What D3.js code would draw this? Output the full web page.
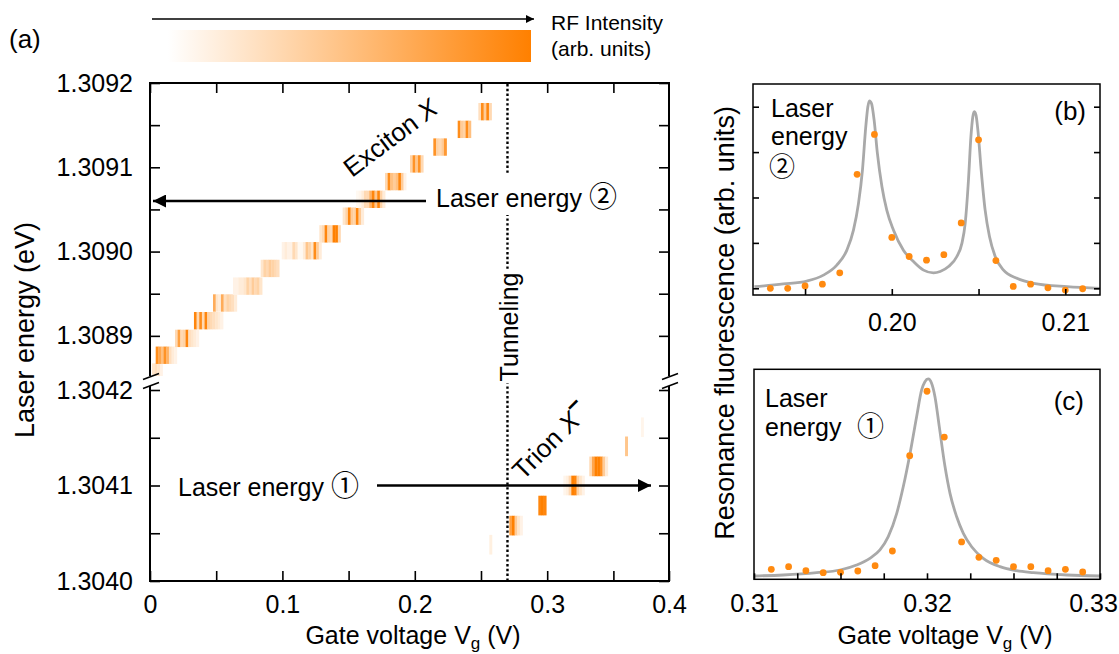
<!DOCTYPE html>
<html>
<head>
<meta charset="utf-8">
<script src="https://cdn.jsdelivr.net/npm/d3@7"></script>
<style>
  body { margin: 0; background: #fff; }
  text { font-family: "Liberation Sans", Arial, sans-serif; fill: #000; }
  .cj { font-family: "Noto Sans CJK JP", "DejaVu Sans", sans-serif; }
</style>
</head>
<body>
<svg id="fig" width="1119" height="654"></svg>
<script>
// ---- panel (a): RF map, one row per laser energy, stripes of intensity along gate voltage
var stripeDV = 0.002;      // V per stripe
var rowDE = 0.0000206;     // eV per row

var excitonE = [1.308857, 1.308877, 1.308897, 1.308918, 1.308939, 1.308959, 1.308980, 1.309001,
                1.309021, 1.309042, 1.309062, 1.309083, 1.309104, 1.309124, 1.309145, 1.309166];
var excitonV0 = [0.0015, 0.0043, 0.0189, 0.0332, 0.0476, 0.0627, 0.0836, 0.0995,
                 0.1279, 0.1455, 0.1556, 0.1775, 0.1964, 0.2140, 0.2324, 0.2480];
var excitonI = [
  [0.2, 0.25, 0.2, 0.1],
  [0.9, 0.7, 0.5, 0.85, 0.6, 0.25, 0.15, 0.1],
  [0.3, 0.75, 0.3, 0.35, 0.95, 0.25, 0.2, 0.15, 0.1],
  [0.95, 0.3, 0.9, 0.3, 0.95, 0.35, 0.3, 0.25, 0.2, 0.15, 0.1],
  [0.65, 0.2, 0.15, 0.65, 0.25, 0.35, 0.3, 0.25, 0.15],
  [0.1, 0.1, 0.15, 0.15, 0.2, 0.35, 0.25, 0.4, 0.3, 0.35, 0.2],
  [0.2, 0.35, 0.3, 0.4, 0.35, 0.3, 0.25],
  [0.1, 0.15, 0.1, 0.1, 0.3, 0.2, 0.05, 0.05, 0.15, 0.45, 0.35, 0.2, 0.9, 0.4, 0.15],
  [0.2, 0.3, 0.95, 0.35, 0.3, 1.0, 1.0, 0.3],
  [0.2, 0.35, 0.95, 0.4, 0.35, 0.95, 0.4, 0.15],
  [0.05, 0.08, 0.15, 0.3, 0.3, 0.6, 0.95, 0.45, 0.95, 0.35, 0.15],
  [0.3, 0.9, 0.5, 0.4, 0.5, 0.95, 0.4, 0.1],
  [0.35, 0.85, 0.45, 0.85, 0.3],
  [0.85, 0.35, 0.3, 0.4, 0.8],
  [0.9, 0.4, 0.35, 0.9, 0.5],
  [0.25, 0.9, 0.4, 0.95, 0.3]
];

var trionE = [1.304038, 1.304058, 1.304079, 1.304100, 1.304120, 1.304141, 1.304161];
var trionV0 = [0.2563, 0.2714, 0.2933, 0.3122, 0.3318, 0.3588, 0.3708];
var trionI = [
  [0.12],
  [0.75, 1.0, 0.4, 0.2, 0.1],
  [0.95, 1.0, 0.95],
  [0.08, 0.12, 0.3, 1.0, 0.95, 0.35, 0.2, 0.1],
  [0.3, 0.7, 1.0, 1.0, 0.85, 0.4, 0.15],
  [0.45],
  [0.08]
];

var laserE1 = 1.3041, laserE2 = 1.30906, tunnelV = 0.27;

var xTicksA = [0, 0.05, 0.1, 0.15, 0.2, 0.25, 0.3, 0.35, 0.392];
var xLabelsA = {0: "0", 0.1: "0.1", 0.2: "0.2", 0.3: "0.3", 0.392: "0.4"};
var yTicksUp = [1.3089, 1.30895, 1.3090, 1.30905, 1.3091, 1.30915, 1.3092];
var yLabelsUp = [1.3089, 1.3090, 1.3091, 1.3092];
var yTicksLo = [1.3040, 1.30405, 1.3041, 1.30415, 1.3042];
var yLabelsLo = [1.3040, 1.3041, 1.3042];

// ---- panel (b): laser energy 2
var bVolt = [0.193, 0.194, 0.195, 0.196, 0.197, 0.198, 0.199, 0.200, 0.201, 0.202,
             0.203, 0.204, 0.205, 0.206, 0.207, 0.208, 0.209, 0.210, 0.211];
var bRF = [0.0, 0.0, 0.05, 0.09, 0.34, 2.51, 3.39, 1.12, 0.70, 0.62,
           0.74, 1.44, 3.27, 0.61, 0.04, 0.09, 0.01, -0.04, -0.01];
var bFitV = [0.19208, 0.19375, 0.1951, 0.19606, 0.19683, 0.19741, 0.19779, 0.19808, 0.19831, 0.1985,
             0.19862, 0.19871, 0.19883, 0.19898, 0.19917, 0.19943, 0.19971, 0.2001, 0.20067, 0.20125,
             0.20183, 0.2024, 0.20279, 0.20327, 0.20375, 0.20404, 0.20423, 0.20442, 0.20456, 0.20467,
             0.20475, 0.20485, 0.20496, 0.20515, 0.20538, 0.20563, 0.20596, 0.20644, 0.20721, 0.20817,
             0.2101, 0.212];
var bFitY = [0.035, 0.095, 0.16, 0.29, 0.51, 0.84, 1.28, 1.87, 2.61, 3.56,
             4.0, 4.13, 4.07, 3.71, 2.97, 2.24, 1.72, 1.28, 0.84, 0.59,
             0.40, 0.34, 0.37, 0.48, 0.70, 0.99, 1.43, 2.39, 3.34, 3.78,
             3.89, 3.82, 3.49, 2.61, 1.72, 1.14, 0.70, 0.40, 0.22, 0.11,
             0.035, 0.0];
var bXTicks = [0.195, 0.200, 0.205, 0.210];
var bXLabels = [0.20, 0.21];
var bYTicks = [0, 1, 2, 3, 4];

// ---- panel (c): laser energy 1
var cVolt = [0.311, 0.312, 0.313, 0.314, 0.315, 0.316, 0.317, 0.318, 0.319, 0.320,
             0.321, 0.322, 0.323, 0.324, 0.325, 0.326, 0.327, 0.328, 0.329];
var cRF = [0.147, 0.205, 0.117, 0.073, 0.081, 0.11, 0.227, 0.55, 2.65, 4.07,
           3.06, 0.75, 0.41, 0.345, 0.205, 0.205, 0.117, 0.147, 0.088];
var cFitV = [0.31002, 0.31169, 0.31362, 0.31497, 0.31593, 0.3167, 0.31728, 0.31776, 0.31825, 0.31863,
             0.31902, 0.3194, 0.31969, 0.31988, 0.32007, 0.32027, 0.32046, 0.32071, 0.32104, 0.32133,
             0.32171, 0.3221, 0.32258, 0.32325, 0.32422, 0.32518, 0.32614, 0.32808, 0.33];
var cFitY = [0, 0.022, 0.073, 0.132, 0.242, 0.39, 0.573, 0.866, 1.38, 1.97,
             2.70, 3.51, 4.10, 4.28, 4.34, 4.24, 3.95, 3.29, 2.41, 1.82,
             1.31, 0.94, 0.645, 0.39, 0.205, 0.117, 0.073, 0.022, 0];
var cXTicks = [0.31, 0.3125, 0.315, 0.3175, 0.32, 0.3225, 0.325, 0.3275, 0.33];
var cXLabels = [0.31, 0.32, 0.33];

// ---------------------------------------------------------------
var svg = d3.select("#fig");
var color = d3.interpolateRgb("#ffffff", "#ff8000");
var near = function (arr, d) { return arr.some(function (t) { return Math.abs(t - d) < 1e-9; }); };

var defs = svg.append("defs");
defs.append("marker").attr("id", "head")
    .attr("viewBox", "0 0 10 10").attr("refX", 10).attr("refY", 5)
    .attr("markerUnits", "userSpaceOnUse").attr("markerWidth", 15).attr("markerHeight", 13)
    .attr("orient", "auto")
  .append("path").attr("d", "M0,0L10,5L0,10z").attr("fill", "#000");
defs.append("marker").attr("id", "headS")
    .attr("viewBox", "0 0 10 10").attr("refX", 10).attr("refY", 5)
    .attr("markerUnits", "userSpaceOnUse").attr("markerWidth", 9).attr("markerHeight", 8)
    .attr("orient", "auto")
  .append("path").attr("d", "M0,0L10,5L0,10z").attr("fill", "#000");
var grad = defs.append("linearGradient").attr("id", "cbar");
grad.append("stop").attr("offset", "0%").attr("stop-color", color(0));
grad.append("stop").attr("offset", "50%").attr("stop-color", color(0.5));
grad.append("stop").attr("offset", "100%").attr("stop-color", color(1));

// ---- (a) scales
var xA = d3.scaleLinear().domain([0, 0.392]).range([150, 669]);
var yUp = d3.scaleLinear().domain([1.30885, 1.3092]).range([378, 83]);
var yLo = d3.scaleLinear().domain([1.3040, 1.3042]).range([581, 390]);

defs.append("clipPath").attr("id", "clipUp").append("rect")
    .attr("x", 150).attr("y", 83).attr("width", 519).attr("height", 293);
defs.append("clipPath").attr("id", "clipLo").append("rect")
    .attr("x", 150).attr("y", 387).attr("width", 519).attr("height", 194);

function drawRows(g, E, V0, I, y) {
  E.forEach(function (e, i) {
    I[i].forEach(function (v, j) {
      g.append("rect")
        .attr("x", xA(V0[i] + j * stripeDV))
        .attr("width", xA(stripeDV) - xA(0) + 0.3)
        .attr("y", y(e + rowDE / 2))
        .attr("height", y(e - rowDE / 2) - y(e + rowDE / 2))
        .attr("fill", color(v));
    });
  });
}
drawRows(svg.append("g").attr("clip-path", "url(#clipUp)"), excitonE, excitonV0, excitonI, yUp);
drawRows(svg.append("g").attr("clip-path", "url(#clipLo)"), trionE, trionV0, trionI, yLo);

// colour bar + arrow
svg.append("rect").attr("x", 168).attr("y", 30).attr("width", 363).attr("height", 32)
   .attr("fill", "url(#cbar)");
svg.append("line").attr("x1", 152).attr("x2", 534).attr("y1", 19).attr("y2", 19)
   .attr("stroke", "#000").attr("stroke-width", 1.5).attr("marker-end", "url(#headS)");
svg.append("text").attr("x", 551).attr("y", 30).attr("font-size", 21).text("RF Intensity");
svg.append("text").attr("x", 551).attr("y", 56).attr("font-size", 21).text("(arb. units)");
svg.append("text").attr("x", 9).attr("y", 48).attr("font-size", 26).text("(a)");

// tunneling line
svg.append("line").attr("x1", xA(tunnelV)).attr("x2", xA(tunnelV)).attr("y1", 84).attr("y2", 581)
   .attr("stroke", "#000").attr("stroke-width", 2.4).attr("stroke-dasharray", "2.4,2.4");

// axes of (a)
function styleAxis(g, size) {
  g.select(".domain").remove();
  g.selectAll(".tick line").attr("stroke", "#000").attr("stroke-width", 1.6);
  g.selectAll(".tick text").attr("font-size", size).attr("font-family", null).attr("fill", "#000");
}
var fmt4 = d3.format(".4f");
svg.append("g").attr("transform", "translate(150,0)")
   .call(d3.axisLeft(yUp).tickValues(yTicksUp).tickSize(-10).tickPadding(17)
         .tickFormat(function (d) { return near(yLabelsUp, d) ? fmt4(d) : ""; }))
   .call(styleAxis, 25);
svg.append("g").attr("transform", "translate(150,0)")
   .call(d3.axisLeft(yLo).tickValues(yTicksLo).tickSize(-10).tickPadding(17)
         .tickFormat(function (d) { return near(yLabelsLo, d) ? fmt4(d) : ""; }))
   .call(styleAxis, 25);
svg.append("g").attr("transform", "translate(669,0)")
   .call(d3.axisRight(yUp).tickValues(yTicksUp).tickSize(-10).tickFormat(""))
   .call(styleAxis, 25);
svg.append("g").attr("transform", "translate(669,0)")
   .call(d3.axisRight(yLo).tickValues(yTicksLo).tickSize(-10).tickFormat(""))
   .call(styleAxis, 25);
svg.append("g").attr("transform", "translate(0,581)")
   .call(d3.axisBottom(xA).tickValues(xTicksA).tickSize(-10).tickPadding(14)
         .tickFormat(function (d) { return xLabelsA[d] || ""; }))
   .call(styleAxis, 25);
svg.append("g").attr("transform", "translate(0,83)")
   .call(d3.axisTop(xA).tickValues(xTicksA.slice(0, -1)).tickSize(-10).tickFormat(""))
   .call(styleAxis, 25);

// frame with axis break
var frame = svg.append("g").attr("stroke", "#000").attr("stroke-width", 2).attr("fill", "none");
frame.append("path").attr("d", "M150,376V83H669V376");
frame.append("path").attr("d", "M150,386V581H669V386");
[150, 669].forEach(function (x) {
  [376.5, 385.5].forEach(function (y) {
    frame.append("line").attr("x1", x - 7).attr("y1", y + 3).attr("x2", x + 9).attr("y2", y - 3)
         .attr("stroke-width", 1.6);
  });
});

// titles of (a)
svg.append("text").attr("transform", "translate(34,330) rotate(-90)").attr("text-anchor", "middle")
   .attr("font-size", 27).text("Laser energy (eV)");
function gateTitle(x) {
  var t = svg.append("text").attr("x", x).attr("y", 644).attr("text-anchor", "middle").attr("font-size", 25);
  t.append("tspan").text("Gate voltage V");
  t.append("tspan").attr("font-size", 17).attr("dy", 5).text("g");
  t.append("tspan").attr("dy", -5).text(" (V)");
}
gateTitle(413);

// labels inside (a)
function bgText(t) {
  var b = t.node().getBBox();
  var p = t.node().parentNode;
  d3.select(p).insert("rect", function () { return t.node(); })
    .attr("x", b.x - 2).attr("y", b.y).attr("width", b.width + 4).attr("height", b.height)
    .attr("fill", "#fff").attr("transform", t.attr("transform"));
}
var tun = svg.append("text").attr("transform", "translate(518,327) rotate(-90)")
   .attr("text-anchor", "middle").attr("font-size", 25).text("Tunneling");
bgText(tun);

var ex = svg.append("text").attr("transform", "translate(352,178) rotate(-37)").attr("font-size", 26);
ex.append("tspan").text("Exciton ");
ex.append("tspan").attr("font-style", "italic").text("X");

var tr = svg.append("text").attr("transform", "translate(523,481) rotate(-45)").attr("font-size", 26);
tr.append("tspan").text("Trion ");
tr.append("tspan").attr("font-style", "italic").text("X");
tr.append("tspan").attr("font-weight", "bold").attr("dy", -11).attr("font-size", 23).text("\u2212");

var l2 = svg.append("text").attr("x", 436).attr("y", 207).attr("font-size", 25);
l2.append("tspan").text("Laser energy ");
l2.append("tspan").attr("class", "cj").attr("font-size", 28).text("\u2461");
bgText(l2);
svg.append("line").attr("x1", 426).attr("x2", xA(0) + 3).attr("y1", yUp(laserE2)).attr("y2", yUp(laserE2))
   .attr("stroke", "#000").attr("stroke-width", 2.5).attr("marker-end", "url(#head)");

var l1 = svg.append("text").attr("x", 178).attr("y", 496).attr("font-size", 25);
l1.append("tspan").text("Laser energy ");
l1.append("tspan").attr("class", "cj").attr("font-size", 28).text("\u2460");
svg.append("line").attr("x1", 377).attr("x2", 651).attr("y1", yLo(laserE1)).attr("y2", yLo(laserE1))
   .attr("stroke", "#000").attr("stroke-width", 2.5).attr("marker-end", "url(#head)");

// ---- (b)
var xB = d3.scaleLinear().domain([0.192, 0.212]).range([753, 1100]);
var yB = d3.scaleLinear().domain([-0.148, 4.5]).range([295, 84]);
// ---- (c)
var xC = d3.scaleLinear().domain([0.31, 0.33]).range([754, 1100]);
var yC = d3.scaleLinear().domain([-0.073, 4.553]).range([579.3, 369.3]);

defs.append("clipPath").attr("id", "clipB").append("rect")
    .attr("x", 753).attr("y", 84).attr("width", 347).attr("height", 211);
defs.append("clipPath").attr("id", "clipC").append("rect")
    .attr("x", 754).attr("y", 369.3).attr("width", 346).attr("height", 210);

function drawSpectrum(x, y, clip, fitV, fitY, volt, rf) {
  var g = svg.append("g").attr("clip-path", "url(#" + clip + ")");
  var line = d3.line().x(function (d) { return x(d[0]); }).y(function (d) { return y(d[1]); })
               .curve(d3.curveMonotoneX);
  g.append("path").datum(d3.zip(fitV, fitY)).attr("d", line)
   .attr("fill", "none").attr("stroke", "#a9a9a9").attr("stroke-width", 2.8);
  g.selectAll("circle").data(d3.zip(volt, rf)).enter().append("circle")
   .attr("cx", function (d) { return x(d[0]); }).attr("cy", function (d) { return y(d[1]); })
   .attr("r", 3.4).attr("fill", "#ff8a10");
}
drawSpectrum(xB, yB, "clipB", bFitV, bFitY, bVolt, bRF);
drawSpectrum(xC, yC, "clipC", cFitV, cFitY, cVolt, cRF);

var fmt2 = d3.format(".2f");
svg.append("g").attr("transform", "translate(0,295)")
   .call(d3.axisBottom(xB).tickValues(bXTicks).tickSize(-6).tickPadding(18)
         .tickFormat(function (d) { return near(bXLabels, d) ? fmt2(d) : ""; }))
   .call(styleAxis, 25);
svg.append("g").attr("transform", "translate(753,0)")
   .call(d3.axisLeft(yB).tickValues(bYTicks).tickSize(-6).tickFormat(""))
   .call(styleAxis, 25);
svg.append("g").attr("transform", "translate(1100,0)")
   .call(d3.axisRight(yB).tickValues(bYTicks).tickSize(-6).tickFormat(""))
   .call(styleAxis, 25);
var cAx = svg.append("g").attr("transform", "translate(0,579.3)")
   .call(d3.axisBottom(xC).tickValues(cXTicks).tickSize(-6).tickPadding(15)
         .tickFormat(function (d) { return near(cXLabels, d) ? fmt2(d) : ""; }))
   .call(styleAxis, 25);
// last label sits against the page edge
cAx.selectAll(".tick text").filter(function (d) { return near([0.33], d); }).attr("dx", -7);

svg.append("rect").attr("x", 753).attr("y", 84).attr("width", 347).attr("height", 211)
   .attr("fill", "none").attr("stroke", "#000").attr("stroke-width", 1.5);
svg.append("rect").attr("x", 754).attr("y", 369.3).attr("width", 346).attr("height", 210)
   .attr("fill", "none").attr("stroke", "#000").attr("stroke-width", 1.5);

svg.append("text").attr("x", 771).attr("y", 117).attr("font-size", 25).text("Laser");
svg.append("text").attr("x", 771).attr("y", 145).attr("font-size", 25).text("energy");
svg.append("text").attr("x", 769).attr("y", 176).attr("font-size", 26).attr("class", "cj").text("\u2461");
svg.append("text").attr("x", 1086).attr("y", 120).attr("text-anchor", "end").attr("font-size", 26).text("(b)");

svg.append("text").attr("x", 765).attr("y", 407).attr("font-size", 25).text("Laser");
var ce = svg.append("text").attr("x", 765).attr("y", 436).attr("font-size", 25);
ce.append("tspan").text("energy");
ce.append("tspan").attr("x", 857).attr("class", "cj").attr("font-size", 27).text("\u2460");
svg.append("text").attr("x", 1084).attr("y", 410).attr("text-anchor", "end").attr("font-size", 26).text("(c)");

svg.append("text").attr("transform", "translate(734,323) rotate(-90)").attr("text-anchor", "middle")
   .attr("font-size", 27).text("Resonance fluorescence (arb. units)");
gateTitle(945);
</script>
</body>
</html>
